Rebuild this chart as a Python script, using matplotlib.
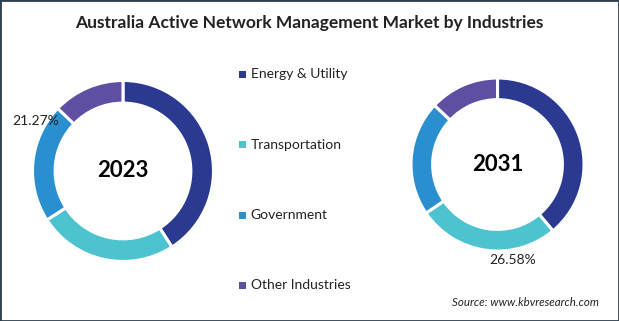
import matplotlib
matplotlib.use("Agg")
import matplotlib.pyplot as plt
from matplotlib.patches import Rectangle

plt.rcParams['font.family'] = ['Lato', 'DejaVu Sans']

industries = ["Energy & Utility", "Transportation", "Government", "Other Industries"]
colors = ["#2B3990", "#4EC3D0", "#2A8FCF", "#5F4FA3"]
share_2023 = [40.9, 25.0, 21.27, 12.83]
share_2031 = [38.92, 26.58, 21.5, 13.0]

fig = plt.figure(figsize=(6.19, 3.21), dpi=100)
fig.patch.set_facecolor("white")
fig.patches.append(Rectangle((0, 0), 1, 1, transform=fig.transFigure, fill=False,
                             edgecolor="#2E3F4F", linewidth=2))

fig.text(0.5, 0.928, "Australia Active Network Management Market by Industries",
         ha="center", va="center", fontsize=12.5, fontweight="bold", color="#222222")


def donut(rect, values, year, label_idx, label_xy):
    ax = fig.add_axes(rect)
    ax.pie(values, colors=colors, startangle=90, counterclock=False, radius=1.0,
           wedgeprops=dict(width=0.25, edgecolor="white", linewidth=2.2))
    ax.set_xlim(-1, 1)
    ax.set_ylim(-1, 1)
    ax.set_aspect("equal")
    ax.text(0, 0, year, ha="center", va="center", fontsize=16, fontweight="bold", color="black")
    ax.text(label_xy[0], label_xy[1], "%.2f%%" % values[label_idx], ha="center", va="center",
            fontsize=10, color="#222222", clip_on=False)
    ax.axis("off")


donut([0.0525, 0.1854, 0.2924, 0.5639], share_2023, "2023", 2, (-0.97, 0.55))
donut([0.664, 0.218, 0.2795, 0.539], share_2031, "2031", 1, (0.17, -1.10))

# legend
legend_y = [0.768, 0.549, 0.330, 0.112]
for name, c, y in zip(industries, colors, legend_y):
    fig.patches.append(Rectangle((0.386, y - 0.011), 0.0115, 0.022, transform=fig.transFigure,
                                 facecolor=c, edgecolor="none"))
    fig.text(0.405, y, name, ha="left", va="center", fontsize=10, color="#222222")

fig.text(0.968, 0.058, "Source: www.kbvresearch.com", ha="right", va="center",
         fontsize=8.3, style="italic", color="#222222")

fig.savefig("out.png", dpi=100)
